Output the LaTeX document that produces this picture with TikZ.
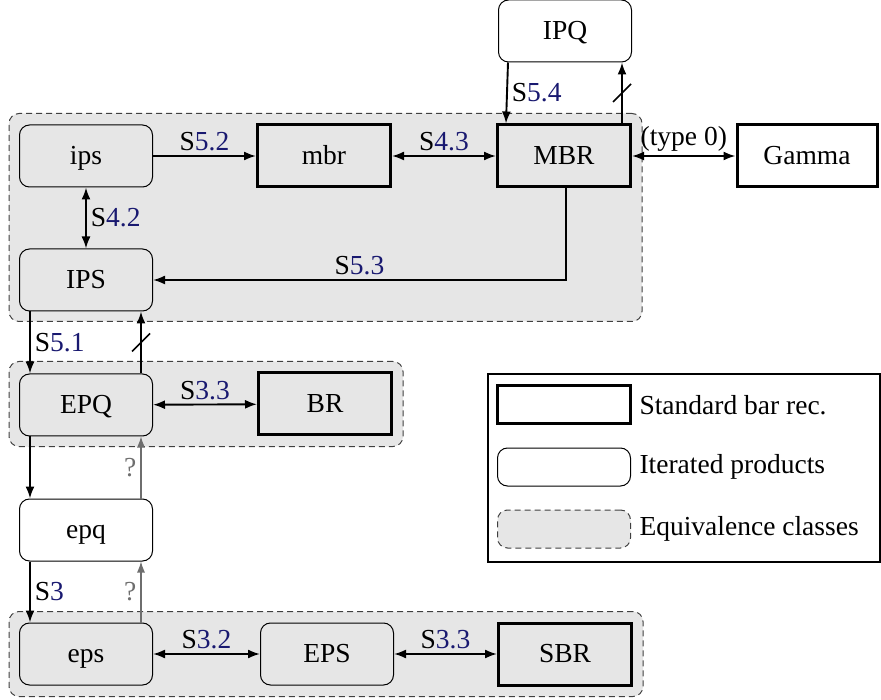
\documentclass[tikz,border=0pt]{standalone}
\usepackage{fontspec}
\setmainfont{Liberation Serif}
\usetikzlibrary{arrows.meta,fit,backgrounds,calc}
\definecolor{navyc}{RGB}{25,25,112}
\definecolor{fillg}{RGB}{230,230,230}
\definecolor{qgray}{RGB}{110,110,110}
\newcommand\sref[1]{S\textcolor{navyc}{#1}}
\begin{document}
\begin{tikzpicture}[x=1pt,y=-1pt,
 every node/.style={font=\fontsize{27.5}{32}\selectfont},
 base/.style={minimum width=133pt, minimum height=62pt, inner sep=0pt, text height=19pt, text depth=1.5pt},
 sbr/.style={base, draw, line width=3pt},
 itp/.style={base, draw, line width=1pt, rounded corners=10pt},
 grp/.style={draw=black!75, dash pattern=on 6pt off 4pt, line width=1pt, fill=fillg, rounded corners=10pt, inner sep=10pt},
 arr/.style={line width=1.9pt, -{Latex[length=12pt,width=9pt]}},
 darr/.style={line width=1.9pt, {Latex[length=12pt,width=9pt]}-{Latex[length=12pt,width=9pt]}},
 garr/.style={line width=1.2pt, draw=qgray, -{Latex[length=11pt,width=8pt]}},
 slash/.style={line width=1.5pt},
 lbl/.style={inner sep=4pt}
]
\useasboundingbox (0,0) rectangle (881,700);

% nodes
\node[itp] (IPQ) at (565,31) {IPQ};
\node[itp] (ips) at (86,156) {ips};
\node[sbr] (mbr) at (324,156) {mbr};
\node[sbr] (MBR) at (564,156) {MBR};
\node[sbr, minimum width=140pt] (Gamma) at (807,156) {Gamma};
\node[itp] (IPS) at (86,280) {IPS};
\node[itp] (EPQ) at (86,405) {EPQ};
\node[sbr] (BR) at (325,404) {BR};
\node[itp] (epq) at (86,530) {epq};
\node[itp] (eps) at (86,654) {eps};
\node[itp] (EPS) at (327,654) {EPS};
\node[sbr] (SBR) at (565,654) {SBR};

\begin{scope}[on background layer]
\node[grp, fit=(ips)(MBR)(IPS)] (g1) {};
\node[grp, fit=(EPQ)(BR)] (g2) {};
\node[grp, fit=(eps)(SBR)] (g3) {};
\end{scope}

% legend
\node[draw, line width=2.8pt, minimum width=392pt, minimum height=188pt, inner sep=0pt] (leg) at (684,468) {};
\node[sbr, minimum height=38pt] (l1) at (564,405) {};
\node[itp, minimum height=38pt] (l2) at (564,467) {};
\node[grp, inner sep=0pt, minimum width=133pt, minimum height=38pt] (l3) at (564,529) {};
\node[anchor=west] (t1) at (636,405) {Standard bar rec.};
\node[anchor=west] (t2) at (636,467) {Iterated products};
\node[anchor=west] (t3) at (636,529) {Equivalence classes};

% connectors
\draw[arr] (ips) -- node[lbl, above] {\sref{5.2}} (mbr);
\draw[darr] (mbr) -- node[lbl, above] {\sref{4.3}} (MBR);
\draw[darr] (MBR) -- node[lbl, above] {(type 0)} (Gamma);
\draw[darr] (ips) -- node[lbl, right] {\sref{4.2}} (IPS);
\draw[arr] ([xshift=2pt]MBR.south) |- node[lbl, pos=0.75, above] {\sref{5.3}} (IPS);
\draw[arr] ([xshift=10pt]IPQ.south west) -- node[lbl, right] {\sref{5.4}} ([xshift=10pt]MBR.north west);
\draw[arr] ([xshift=-10pt]MBR.north east) -- coordinate[midway] (s1) ([xshift=-10pt]IPQ.south east);
\draw[slash] ($(s1)+(-9,9)$) -- ($(s1)+(9,-9)$);

\draw[arr] ([xshift=11pt]IPS.south west) -- node[lbl, right] {\sref{5.1}} ([xshift=11pt]EPQ.north west);
\draw[arr] ([xshift=-12pt]EPQ.north east) -- coordinate[midway] (s2) ([xshift=-12pt]IPS.south east);
\draw[slash] ($(s2)+(-9,9)$) -- ($(s2)+(9,-9)$);
\draw[darr] (EPQ) -- node[lbl, above] {\sref{3.3}} (BR);

\draw[arr] ([xshift=11pt]EPQ.south west) -- ([xshift=11pt]epq.north west);
\draw[garr] ([xshift=-12pt]epq.north east) -- node[lbl, left, text=qgray] {?} ([xshift=-12pt]EPQ.south east);
\draw[arr] ([xshift=11pt]epq.south west) -- node[lbl, right] {\sref{3}} ([xshift=11pt]eps.north west);
\draw[garr] ([xshift=-12pt]eps.north east) -- node[lbl, left, text=qgray] {?} ([xshift=-12pt]epq.south east);

\draw[darr] (eps) -- node[lbl, above] {\sref{3.2}} (EPS);
\draw[darr] (EPS) -- node[lbl, above] {\sref{3.3}} (SBR);
\end{tikzpicture}
\end{document}
